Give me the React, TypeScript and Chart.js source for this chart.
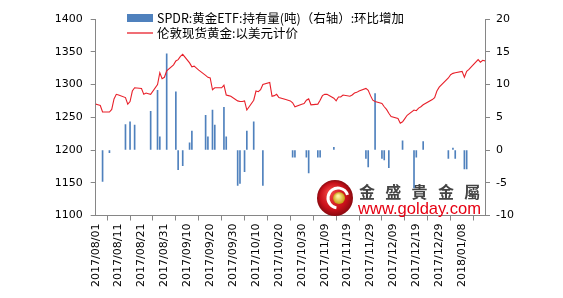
import React, { useEffect, useRef } from "react";
import { Chart, registerables } from "chart.js";

Chart.register(...registerables);

// ---------------- data ----------------
const startDate = "2017/08/01";
const endDate = "2018/01/18";

const goldDates = [
  "2017/08/01","2017/08/02","2017/08/03","2017/08/04","2017/08/07","2017/08/08","2017/08/09","2017/08/10","2017/08/11",
  "2017/08/14","2017/08/15","2017/08/16","2017/08/17","2017/08/18","2017/08/21","2017/08/22","2017/08/23","2017/08/24","2017/08/25",
  "2017/08/28","2017/08/29","2017/08/30","2017/08/31","2017/09/01","2017/09/04","2017/09/05","2017/09/06","2017/09/07","2017/09/08",
  "2017/09/11","2017/09/12","2017/09/13","2017/09/14","2017/09/15","2017/09/18","2017/09/19","2017/09/20","2017/09/21","2017/09/22",
  "2017/09/25","2017/09/26","2017/09/27","2017/09/28","2017/09/29","2017/10/02","2017/10/03","2017/10/04","2017/10/05","2017/10/06",
  "2017/10/09","2017/10/10","2017/10/11","2017/10/12","2017/10/13","2017/10/16","2017/10/17","2017/10/18","2017/10/19","2017/10/20",
  "2017/10/23","2017/10/24","2017/10/25","2017/10/26","2017/10/27","2017/10/30","2017/10/31","2017/11/01","2017/11/02","2017/11/03",
  "2017/11/06","2017/11/07","2017/11/08","2017/11/09","2017/11/10","2017/11/13","2017/11/14","2017/11/15","2017/11/16","2017/11/17",
  "2017/11/20","2017/11/21","2017/11/22","2017/11/23","2017/11/24","2017/11/27","2017/11/28","2017/11/29","2017/11/30","2017/12/01",
  "2017/12/04","2017/12/05","2017/12/06","2017/12/07","2017/12/08","2017/12/11","2017/12/12","2017/12/13","2017/12/14","2017/12/15",
  "2017/12/18","2017/12/19","2017/12/20","2017/12/21","2017/12/22","2017/12/26","2017/12/27","2017/12/28","2017/12/29",
  "2018/01/02","2018/01/03","2018/01/04","2018/01/05","2018/01/08","2018/01/09","2018/01/10","2018/01/11","2018/01/12",
  "2018/01/15","2018/01/16","2018/01/17","2018/01/18",
];
const goldPrices = [
  1270,1269,1268,1258,1258,1262,1278,1285,1284,
  1280,1270,1274,1290,1295,1294,1285,1287,1286,1285,
  1300,1318,1309,1311,1321,1330,1336,1338,1343,1346,
  1333,1327,1328,1325,1322,1314,1311,1310,1292,1295,
  1295,1299,1284,1283,1282,1275,1274,1274,1275,1261,
  1276,1290,1289,1292,1300,1303,1282,1283,1285,1280,
  1277,1276,1275,1272,1266,1270,1271,1276,1278,1269,
  1270,1276,1283,1285,1285,1279,1275,1281,1281,1284,
  1282,1284,1287,1288,1290,1294,1291,1283,1276,1274,
  1271,1266,1262,1256,1251,1248,1241,1243,1248,1253,
  1261,1260,1264,1266,1269,1277,1280,1290,1296,
  1310,1315,1317,1318,1320,1311,1320,1323,1327,
  1338,1334,1337,1336,
];

const etfDates = [
  "2017/08/04","2017/08/07","2017/08/14","2017/08/16","2017/08/18","2017/08/25","2017/08/28","2017/08/29","2017/09/01",
  "2017/09/05","2017/09/06","2017/09/08","2017/09/11","2017/09/12","2017/09/18","2017/09/19","2017/09/21","2017/09/22",
  "2017/09/26","2017/09/27","2017/10/02","2017/10/03","2017/10/05","2017/10/06","2017/10/09","2017/10/13","2017/10/26",
  "2017/10/27","2017/11/01","2017/11/02","2017/11/06","2017/11/07","2017/11/13","2017/11/27","2017/11/28","2017/12/01",
  "2017/12/04","2017/12/05","2017/12/07","2017/12/13","2017/12/18","2017/12/19","2017/12/22","2018/01/02","2018/01/04",
  "2018/01/05","2018/01/09","2018/01/10",
];
const etfChanges = [
  -4.8,-0.4,3.9,4.3,3.8,5.9,9.1,2.0,14.7,
  8.9,-3.0,-2.4,1.1,2.9,5.3,2.0,6.1,3.8,
  6.5,2.0,-5.4,-5.1,-3.3,2.9,4.3,-5.4,-1.1,
  -1.1,-1.1,-3.5,-1.1,-1.1,0.4,-1.3,-2.6,8.6,
  -1.3,-1.5,-2.7,1.4,-5.8,-1.1,1.3,-1.3,0.3,
  -1.3,-2.9,-2.9,
];

const leftTicks = { min: 1100, max: 1400, step: 50 };
const rightTicks = { min: -10, max: 20, step: 5 };
const xTickStepDays = 10;

const legendLabels = [
  "SPDR:黄金ETF:持有量(吨)（右轴）:环比增加",
  "伦敦现货黄金:以美元计价",
];
const watermarkChars = ["金", "盛", "貴", "金", "屬"];
const watermarkUrl = "www.golday.com";

// ---------------- helpers ----------------
const DAY = 86400000;
function toUTC(s: string) {
  const [y, m, d] = s.split("/").map(Number);
  return Date.UTC(y, m - 1, d);
}
const startUTC = toUTC(startDate);
const dayOf = (s: string) => Math.round((toUTC(s) - startUTC) / DAY);
const pad = (n: number) => (n < 10 ? "0" + n : "" + n);
function labelOf(n: number) {
  const dt = new Date(startUTC + n * DAY);
  return `${dt.getUTCFullYear()}/${pad(dt.getUTCMonth() + 1)}/${pad(dt.getUTCDate())}`;
}
const totalDays = dayOf(endDate);

const AXIS = "#868686";
const TICKFONT = { family: "'DejaVu Sans', sans-serif", size: 11 };

const legendPlugin = {
  id: "customLegend",
  afterDraw(chart: any) {
    const ctx = chart.ctx;
    ctx.save();
    ctx.fillStyle = "#4f81bd";
    ctx.fillRect(127, 14, 26, 8);
    ctx.strokeStyle = "#e8202a";
    ctx.lineWidth = 1.3;
    ctx.beginPath();
    ctx.moveTo(127, 33);
    ctx.lineTo(153, 33);
    ctx.stroke();
    ctx.fillStyle = "#000";
    ctx.font = "12.5px 'Noto Sans CJK SC', sans-serif";
    ctx.textBaseline = "middle";
    ctx.fillText(legendLabels[0], 157, 18, 247);
    ctx.fillText(legendLabels[1], 157, 33, 147);
    ctx.restore();
  },
};

const watermarkPlugin = {
  id: "watermark",
  beforeDatasetsDraw(chart: any) {
    const ctx = chart.ctx;
    ctx.save();
    const cx = 335, cy = 198, r = 18;
    const g = ctx.createRadialGradient(cx - 5, cy - 6, 2, cx, cy, r);
    g.addColorStop(0, "#f04040");
    g.addColorStop(0.7, "#c8101a");
    g.addColorStop(1, "#8a0a10");
    ctx.fillStyle = g;
    ctx.beginPath();
    ctx.arc(cx, cy, r, 0, Math.PI * 2);
    ctx.fill();
    ctx.strokeStyle = "#ffffff";
    ctx.lineWidth = 3;
    ctx.beginPath();
    ctx.arc(cx + 3, cy, 10, Math.PI * 0.55, Math.PI * 1.9);
    ctx.stroke();
    const g2 = ctx.createRadialGradient(cx + 3, cy - 2, 1, cx + 4, cy, 6);
    g2.addColorStop(0, "#fff2a0");
    g2.addColorStop(1, "#c89a10");
    ctx.fillStyle = g2;
    ctx.beginPath();
    ctx.arc(cx + 4, cy, 6, 0, Math.PI * 2);
    ctx.fill();
    ctx.fillStyle = "#444";
    ctx.font = "bold 16px 'Noto Sans CJK TC', sans-serif";
    ctx.textAlign = "center";
    ctx.textBaseline = "middle";
    watermarkChars.forEach((c, i) => ctx.fillText(c, 367 + i * 26.3, 192));
    ctx.fillStyle = "#e60012";
    ctx.font = "17px 'Liberation Sans', Arial, sans-serif";
    ctx.textAlign = "left";
    ctx.textBaseline = "alphabetic";
    ctx.fillText(watermarkUrl, 358, 213.5, 123);
    ctx.restore();
  },
};

export default function App() {
  const ref = useRef<HTMLCanvasElement>(null);
  useEffect(() => {
    if (!ref.current) return;
    const chart = new Chart(ref.current, {
      type: "bar",
      data: {
        datasets: [
          {
            type: "line",
            label: legendLabels[1],
            data: goldDates.map((d, i) => ({ x: dayOf(d), y: goldPrices[i] })),
            borderColor: "#e8202a",
            borderWidth: 1.1,
            pointRadius: 0,
            tension: 0,
            yAxisID: "y",
            order: 0,
          } as any,
          {
            type: "bar",
            label: legendLabels[0],
            data: etfDates.map((d, i) => ({ x: dayOf(d), y: etfChanges[i] })),
            backgroundColor: "#4f81bd",
            barThickness: 1,
            yAxisID: "y1",
            order: 1,
          } as any,
        ],
      },
      options: {
        animation: false,
        responsive: true,
        maintainAspectRatio: false,
        layout: { padding: { top: 19, left: 0, right: 0, bottom: 0 } },
        plugins: { legend: { display: false }, tooltip: { enabled: false } },
        scales: {
          x: {
            type: "linear",
            offset: false,
            min: 0,
            max: totalDays,
            afterFit: (s: any) => { s.height = 82.5; },
            afterBuildTicks: (s: any) => {
              const t = [];
              for (let v = 0; v <= totalDays; v += xTickStepDays) t.push({ value: v });
              s.ticks = t;
            },
            ticks: {
              autoSkip: false,
              maxRotation: 90,
              minRotation: 90,
              padding: 3,
              color: "#000",
              font: TICKFONT,
              callback: (v: any) => (v + xTickStepDays > totalDays ? "" : labelOf(v)),
            },
            grid: { drawOnChartArea: false, drawTicks: true, tickLength: 5, color: AXIS },
            border: { color: AXIS },
          },
          y: {
            position: "left",
            min: leftTicks.min,
            max: leftTicks.max,
            afterFit: (s: any) => { s.width = 95.7; },
            ticks: { stepSize: leftTicks.step, color: "#000", font: TICKFONT, padding: 8, callback: (v: any) => String(v) },
            grid: { drawOnChartArea: false, tickLength: 5, color: AXIS },
            border: { color: AXIS },
          },
          y1: {
            position: "right",
            min: rightTicks.min,
            max: rightTicks.max,
            afterFit: (s: any) => { s.width = 78; },
            ticks: { stepSize: rightTicks.step, color: "#000", font: TICKFONT, padding: 6, callback: (v: any) => String(v) },
            grid: { drawOnChartArea: false, tickLength: 5, color: AXIS },
            border: { color: AXIS },
          },
        },
      } as any,
      plugins: [watermarkPlugin, legendPlugin],
    });
    return () => chart.destroy();
  }, []);
  return (
    <div style={{ position: "fixed", left: 0, top: 0, width: 563, height: 298, background: "#fff" }}>
      <canvas ref={ref} />
    </div>
  );
}
